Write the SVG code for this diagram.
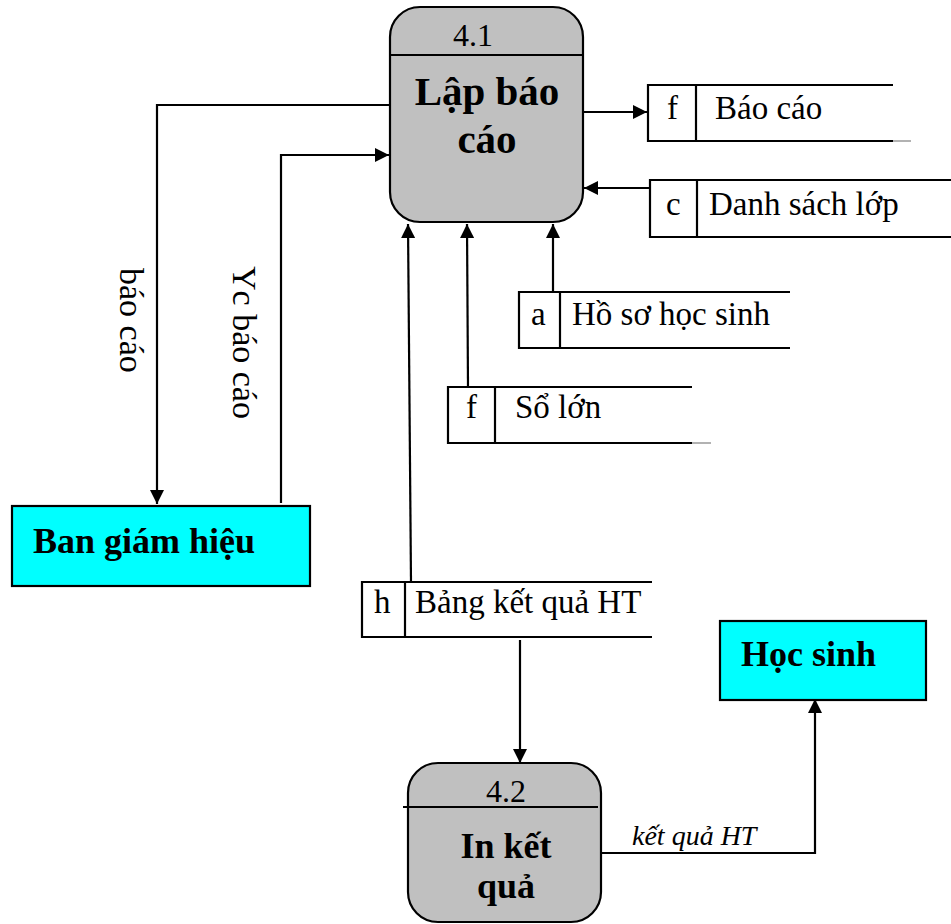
<svg xmlns="http://www.w3.org/2000/svg" width="951" height="924" viewBox="0 0 951 924">
<style>
.proc{fill:#c0c0c0;stroke:#000;stroke-width:2.2}
.ext{fill:#00ffff;stroke:#000;stroke-width:2.2}
.ln{fill:none;stroke:#000;stroke-width:2.2}
.st{fill:none;stroke:#000;stroke-width:2.2}
.t{font-family:"Liberation Serif","Times New Roman",serif;fill:#000}
.num{font-size:32px}
.ptitle{font-size:41px;font-weight:bold}
.ptitle2{font-size:36px;font-weight:bold}
.etitle{font-size:36px;font-weight:bold}
.store{font-size:33px}
.lbl{font-size:34px}
.ilbl{font-size:28px;font-style:italic}
</style>
<defs>
<marker id="ah" viewBox="0 0 10 10" refX="10" refY="5" markerWidth="18" markerHeight="14" markerUnits="userSpaceOnUse" orient="auto">
<path d="M0,0 L10,5 L0,10 Z" fill="#000"/>
</marker>
</defs>
<rect width="951" height="924" fill="#fff"/>

<g id="connectors">
<polyline class="ln" points="398,105 157,105 157,504" marker-end="url(#ah)"/>
<polyline class="ln" points="281,503 281,155 389,155" marker-end="url(#ah)"/>
<line class="ln" x1="583" y1="112" x2="647" y2="112" marker-end="url(#ah)"/>
<line class="ln" x1="650" y1="188" x2="584" y2="188" marker-end="url(#ah)"/>
<line class="ln" x1="553" y1="292" x2="553" y2="224" marker-end="url(#ah)"/>
<line class="ln" x1="468" y1="387" x2="467" y2="224" marker-end="url(#ah)"/>
<line class="ln" x1="411" y1="582" x2="408" y2="224" marker-end="url(#ah)"/>
<line class="ln" x1="520" y1="640" x2="520" y2="763" marker-end="url(#ah)"/>
<polyline class="ln" points="601,853 815,853 815,699" marker-end="url(#ah)"/>
<text class="t ilbl" x="632" y="845">kết quả HT</text>
<text class="t lbl" transform="translate(120,268) rotate(90)">báo cáo</text>
<text class="t lbl" transform="translate(233,266) rotate(90)">Yc báo cáo</text>
</g>

<g id="p41">
<rect class="proc" x="390" y="7" width="193" height="215" rx="30" ry="30"/>
<line class="ln" x1="390" y1="55" x2="583" y2="55"/>
<text class="t num" x="473" y="46" text-anchor="middle">4.1</text>
<text class="t ptitle" x="487" y="105" text-anchor="middle">Lập báo</text>
<text class="t ptitle" x="487" y="153" text-anchor="middle">cáo</text>
</g>

<g id="p42">
<rect class="proc" x="408" y="763" width="193" height="159" rx="30" ry="30"/>
<line class="ln" x1="403" y1="807" x2="598" y2="807"/>
<text class="t num" x="506" y="802" text-anchor="middle">4.2</text>
<text class="t ptitle2" x="506" y="858" text-anchor="middle">In kết</text>
<text class="t ptitle2" x="506" y="898" text-anchor="middle">quả</text>
</g>

<g id="bgh">
<rect class="ext" x="12" y="506" width="298" height="80"/>
<text class="t etitle" x="33" y="553">Ban giám hiệu</text>
</g>

<g id="hs">
<rect class="ext" x="720" y="621" width="206" height="79"/>
<text class="t etitle" x="741" y="666">Học sinh</text>
</g>

<g id="ds_baocao">
<polyline class="st" points="893,85 648,85 648,141 893,141"/>
<line x1="893" y1="141" x2="911" y2="141" stroke="#999" stroke-width="1.5"/>
<line class="st" x1="696" y1="85" x2="696" y2="141"/>
<text class="t store" x="667" y="119">f</text>
<text class="t store" x="715" y="119">Báo cáo</text>
</g>

<g id="ds_danhsach">
<polyline class="st" points="951,180 650,180 650,237 951,237"/>
<line class="st" x1="697" y1="180" x2="697" y2="237"/>
<text class="t store" x="666" y="215">c</text>
<text class="t store" x="709" y="215">Danh sách lớp</text>
</g>

<g id="ds_hoso">
<polyline class="st" points="790,292 519,292 519,348 790,348"/>
<line class="st" x1="560" y1="292" x2="560" y2="348"/>
<text class="t store" x="531" y="325">a</text>
<text class="t store" x="572" y="325">Hồ sơ học sinh</text>
</g>

<g id="ds_solon">
<polyline class="st" points="692,387 448,387 448,443 692,443"/>
<line x1="692" y1="443" x2="711" y2="443" stroke="#999" stroke-width="1.5"/>
<line class="st" x1="495" y1="387" x2="495" y2="443"/>
<text class="t store" x="466" y="418">f</text>
<text class="t store" x="515" y="418">Sổ lớn</text>
</g>

<g id="ds_bangkq">
<polyline class="st" points="652,582 362,582 362,637 652,637"/>
<line class="st" x1="405" y1="582" x2="405" y2="637"/>
<text class="t store" x="374" y="613">h</text>
<text class="t store" x="415" y="613">Bảng kết quả HT</text>
</g>
</svg>
